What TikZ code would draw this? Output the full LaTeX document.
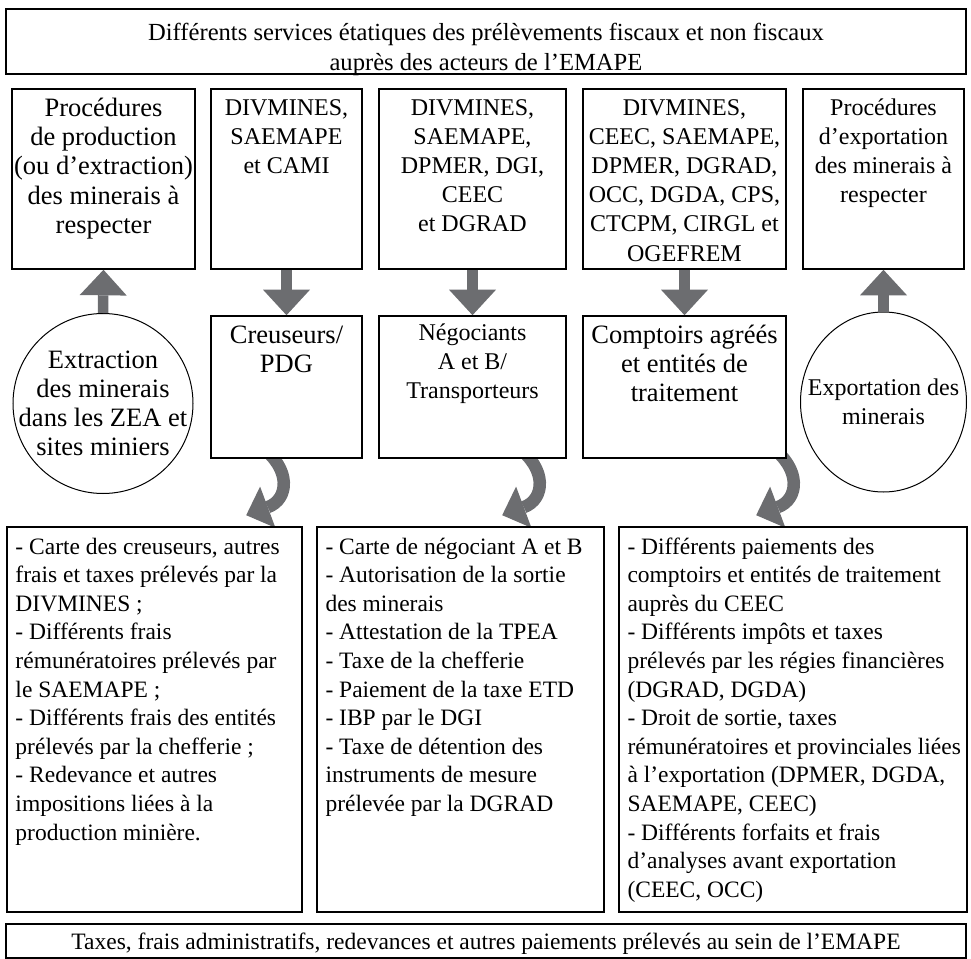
\documentclass[tikz,border=0pt]{standalone}
\usepackage{fontspec}
\setmainfont{Liberation Serif}
\usetikzlibrary{arrows.meta,calc,shapes.geometric,backgrounds}

\definecolor{arrowgray}{RGB}{108,109,112}

% font sizes
\newcommand{\headfont}{\fontsize{12.3}{15}\selectfont}
\newcommand{\bigfont}{\fontsize{13.25}{14.6}\selectfont}
\newcommand{\midfont}{\fontsize{12}{14.6}\selectfont}
\newcommand{\listfont}{\fontsize{11.75}{14.3}\selectfont}

% fixed size text blocks, first baseline set down from the top
\newcommand{\boxtext}[4]{\parbox[c][#2][t]{#1}{\centering\rule{0pt}{#3}\begin{tabular}[t]{@{}c@{}}#4\end{tabular}}}
\newcommand{\listtext}[4]{\parbox[c][#2][t]{#1}{\rule{0pt}{#3}\begin{tabular}[t]{@{}l@{}}#4\end{tabular}}}

\tikzset{
  box/.style={draw, line width=0.8pt, fill=white, inner sep=0pt},
  listbox/.style={box, inner xsep=4.25pt, font=\listfont},
  bubble/.style={draw, line width=0.5pt, fill=white, ellipse, inner sep=-12pt, align=center},
  blockarrow/.style={color=arrowgray, line width=5.25pt, -{Triangle[length=12.75pt, width=23.5pt, line width=0pt]}},
  bentarrow/.style={color=arrowgray, line width=6.25pt, -{Triangle[length=11.5pt, width=22pt, line width=0pt]}}
}

\begin{document}
\begin{tikzpicture}[x=0.5pt, y=-0.5pt]
\useasboundingbox (0,0) rectangle (971,959);
% Header
\node[box, font=\headfont] (head) at (486,41.5) {\boxtext{480pt}{32.5pt}{15.5pt}{Différents services étatiques des prélèvements fiscaux et non fiscaux\\auprès des acteurs de l’EMAPE}};
% Procedures and services
\node[box, font=\bigfont] (prod) at (103.5,179) {\boxtext{91.5pt}{90pt}{13.75pt}{Procédures\\de production\\(ou d’extraction)\\des minerais à\\respecter}};
\node[box, font=\midfont] (svc1) at (286.5,179) {\boxtext{75.5pt}{90pt}{13pt}{DIVMINES,\\SAEMAPE\\et CAMI}};
\node[box, font=\midfont] (svc2) at (472.5,179) {\boxtext{93.5pt}{90pt}{13pt}{DIVMINES,\\SAEMAPE,\\DPMER, DGI,\\CEEC\\et DGRAD}};
\node[box, font=\midfont] (svc3) at (684.5,179) {\boxtext{101.5pt}{90pt}{13pt}{DIVMINES,\\CEEC, SAEMAPE,\\DPMER, DGRAD,\\OCC, DGDA, CPS,\\CTCPM, CIRGL et\\OGEFREM}};
\node[box, font=\midfont] (expo) at (883.5,179) {\boxtext{80.5pt}{90pt}{13pt}{Procédures\\d’exportation\\des minerais à\\respecter}};
% Actors
\node[bubble, minimum width=90pt, minimum height=90pt, font=\bigfont] (extr) at (103,403.5) {Extraction\\des minerais\\dans les ZEA et\\sites miniers};
\node[box, font=\bigfont] (creu) at (286.5,387) {\boxtext{75.5pt}{71pt}{13.5pt}{Creuseurs/\\PDG}};
\node[box, font=\midfont] (nego) at (472.5,387) {\boxtext{93.5pt}{71pt}{12pt}{Négociants\\A et B/\\Transporteurs}};
\node[box, font=\bigfont] (comp) at (684.5,387) {\boxtext{101.5pt}{71pt}{13.5pt}{Comptoirs agréés\\et entités de\\traitement}};
\node[bubble, minimum width=83pt, minimum height=90pt, font=\midfont] (expt) at (883.5,402) {Exportation des\\minerais};
% Payments
\node[listbox] (feesA) at (154.5,719.5) {\listtext{139pt}{192.5pt}{13.5pt}{- Carte des creuseurs, autres\\frais et taxes prélevés par la\\DIVMINES ;\\- Différents frais\\rémunératoires prélevés par\\le SAEMAPE ;\\- Différents frais des entités\\prélevés par la chefferie ;\\- Redevance et autres\\impositions liées à la\\production minière.}};
\node[listbox] (feesB) at (460.5,719.5) {\listtext{135pt}{192.5pt}{13.5pt}{- Carte de négociant A et B\\- Autorisation de la sortie\\des minerais\\- Attestation de la TPEA\\- Taxe de la chefferie\\- Paiement de la taxe ETD\\- IBP par le DGI\\- Taxe de détention des\\instruments de mesure\\prélevée par la DGRAD}};
\node[listbox] (feesC) at (793,719.5) {\listtext{165.5pt}{192.5pt}{13.5pt}{- Différents paiements des\\comptoirs et entités de traitement\\auprès du CEEC\\- Différents impôts et taxes\\prélevés par les régies financières\\(DGRAD, DGDA)\\- Droit de sortie, taxes\\rémunératoires et provinciales liées\\à l’exportation (DPMER, DGDA,\\SAEMAPE, CEEC)\\- Différents forfaits et frais\\d’analyses avant exportation\\(CEEC, OCC)}};
% Footer
\node[box, font=\listfont] (total) at (486,941) {\boxtext{480pt}{17pt}{12.5pt}{Taxes, frais administratifs, redevances et autres paiements prélevés au sein de l’EMAPE}};
% Block arrows
\draw[blockarrow] (extr.north) -- (prod.south);
\foreach \a/\b in {svc1/creu, svc2/nego, svc3/comp} {
  \draw[blockarrow] (\a.south) -- (\b.north);
}
\draw[blockarrow] (expt.north) -- (expo.south);
% Bent arrows, behind the boxes
\begin{scope}[on background layer]
\foreach \src/\dst/\dx/\ex in {creu/feesA/51/240, nego/feesB/139/186, comp/feesC/189/138} {
  \draw[bentarrow] ($(\src.south west)+(\dx,-12)$) .. controls +(30,22) and +(43,-16) .. ($(\dst.north west)+(\ex,-11)$);
}
\end{scope}
\end{tikzpicture}
\end{document}
